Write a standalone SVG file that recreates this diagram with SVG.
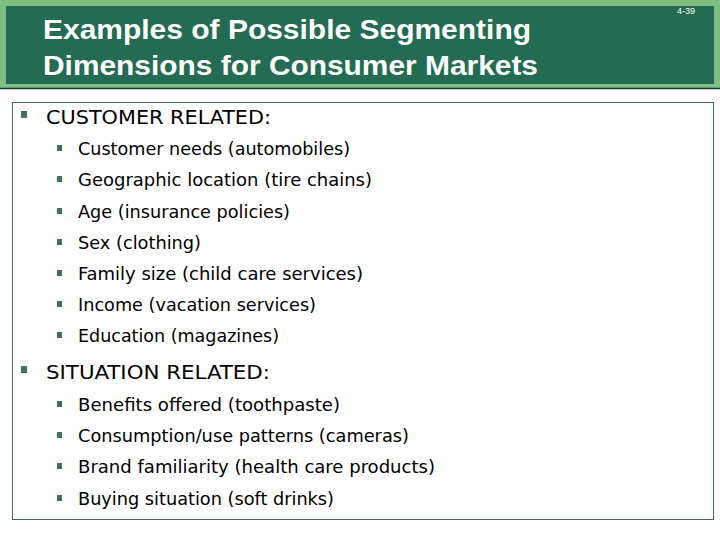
<svg xmlns="http://www.w3.org/2000/svg" width="720" height="540" viewBox="0 0 720 540">
<style>
.t{font-family:"DejaVu Sans Condensed","DejaVu Sans",sans-serif;fill:#000}
.h{font-size:20px}
.s{font-size:17px}
.b{fill:#3f7060}
</style>
<rect width="720" height="540" fill="#fff"/>
<g id="header">
<rect x="0" y="0" width="720" height="89" fill="#7fbf7f"/>
<rect x="6" y="6" width="708" height="78" fill="#236b52"/>
<line x1="0" y1="88.5" x2="720" y2="88.5" stroke="#1a3a2a" stroke-width="1.5"/>
<text x="43" y="39" font-family="Liberation Sans,Arial,sans-serif" font-weight="bold" font-size="28" fill="#fff" textLength="488" lengthAdjust="spacingAndGlyphs">Examples of Possible Segmenting</text>
<text x="43" y="75" font-family="Liberation Sans,Arial,sans-serif" font-weight="bold" font-size="28" fill="#fff" textLength="495" lengthAdjust="spacingAndGlyphs">Dimensions for Consumer Markets</text>
<text x="686" y="14" font-family="Liberation Sans,Arial,sans-serif" font-size="9" fill="#fff" text-anchor="middle">4-39</text>
</g>
<g id="content">
<rect x="12.5" y="102.5" width="701" height="417" fill="#fff" stroke="#3f6a5a" stroke-width="1"/>
<rect class="b" x="21" y="111" width="6" height="7"/>
<text class="t h" x="46" y="124" textLength="225" lengthAdjust="spacingAndGlyphs">CUSTOMER RELATED:</text>
<rect class="b" x="57" y="145" width="5" height="6"/><text class="t s" x="78" y="155" textLength="272" lengthAdjust="spacingAndGlyphs">Customer needs (automobiles)</text>
<rect class="b" x="57" y="176" width="5" height="6"/><text class="t s" x="78" y="186" textLength="294" lengthAdjust="spacingAndGlyphs">Geographic location (tire chains)</text>
<rect class="b" x="57" y="208" width="5" height="6"/><text class="t s" x="78" y="218" textLength="212" lengthAdjust="spacingAndGlyphs">Age (insurance policies)</text>
<rect class="b" x="57" y="239" width="5" height="6"/><text class="t s" x="78" y="249" textLength="123" lengthAdjust="spacingAndGlyphs">Sex (clothing)</text>
<rect class="b" x="57" y="270" width="5" height="6"/><text class="t s" x="78" y="280" textLength="285" lengthAdjust="spacingAndGlyphs">Family size (child care services)</text>
<rect class="b" x="57" y="301" width="5" height="6"/><text class="t s" x="78" y="311" textLength="238" lengthAdjust="spacingAndGlyphs">Income (vacation services)</text>
<rect class="b" x="57" y="332" width="5" height="6"/><text class="t s" x="78" y="342" textLength="201" lengthAdjust="spacingAndGlyphs">Education (magazines)</text>
<rect class="b" x="21" y="366" width="6" height="7"/>
<text class="t h" x="46" y="379" textLength="224" lengthAdjust="spacingAndGlyphs">SITUATION RELATED:</text>
<rect class="b" x="57" y="401" width="5" height="6"/><text class="t s" x="78" y="411" textLength="262" lengthAdjust="spacingAndGlyphs">Benefits offered (toothpaste)</text>
<rect class="b" x="57" y="432" width="5" height="6"/><text class="t s" x="78" y="442" textLength="331" lengthAdjust="spacingAndGlyphs">Consumption/use patterns (cameras)</text>
<rect class="b" x="57" y="463" width="5" height="6"/><text class="t s" x="78" y="473" textLength="357" lengthAdjust="spacingAndGlyphs">Brand familiarity (health care products)</text>
<rect class="b" x="57" y="495" width="5" height="6"/><text class="t s" x="78" y="505" textLength="256" lengthAdjust="spacingAndGlyphs">Buying situation (soft drinks)</text>
</g>
</svg>
